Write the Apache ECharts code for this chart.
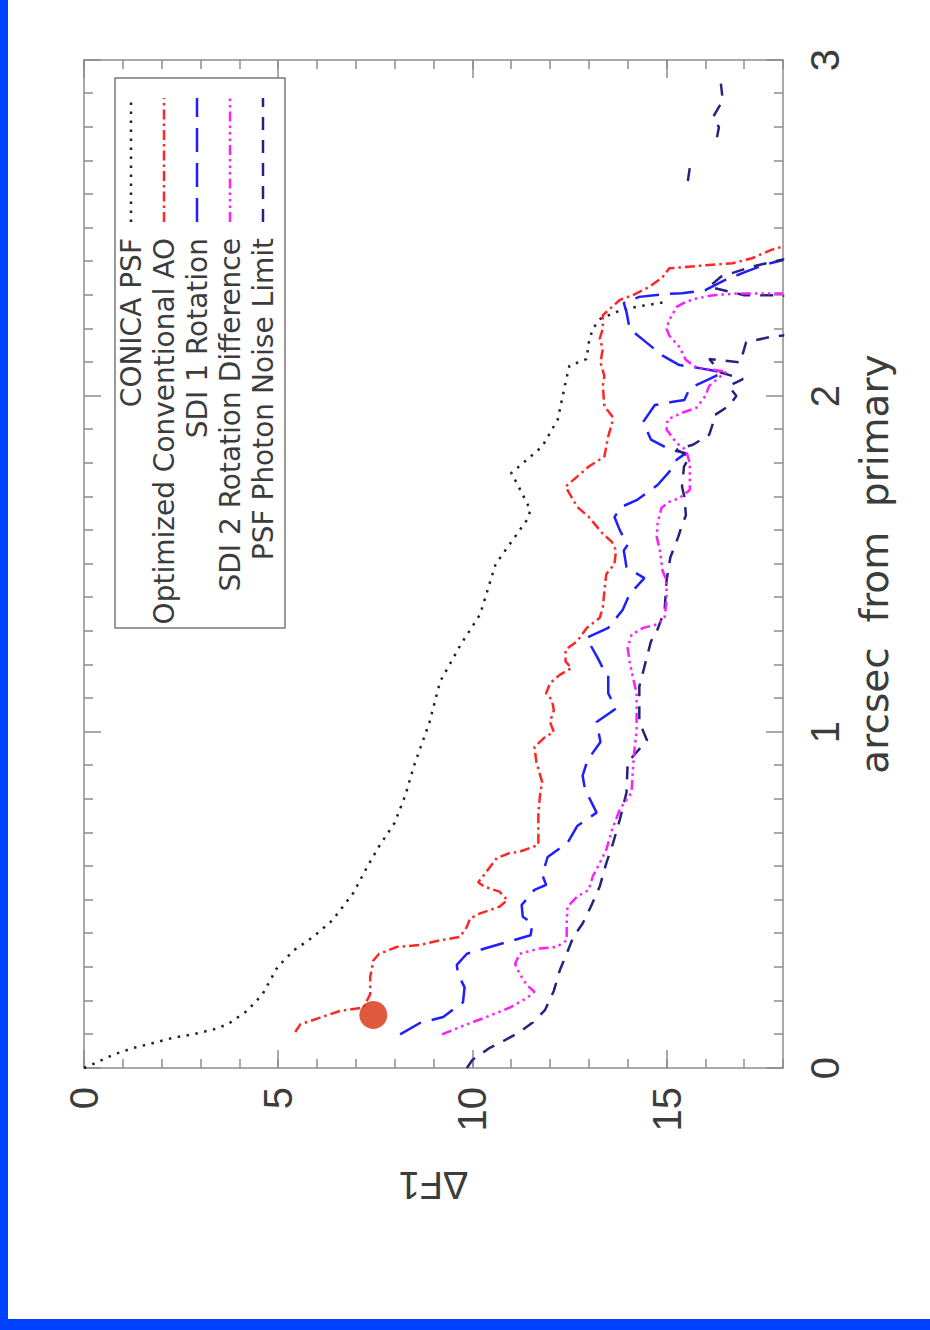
<!DOCTYPE html>
<html>
<head>
<meta charset="utf-8">
<script src="https://cdn.jsdelivr.net/npm/echarts@6/dist/echarts.min.js"></script>
<style>
  html, body { margin: 0; padding: 0; background: #fff; }
  #page { position: relative; width: 930px; height: 1330px; overflow: hidden; background: #fff; }
  /* the plot is laid out landscape and turned a quarter turn counter-clockwise */
  #chart { position: absolute; left: 0; top: 0; width: 1330px; height: 930px;
           transform-origin: 0 0; transform: translate(0px, 1330px) rotate(-90deg); }
  .band { position: absolute; background: #0040ff; }
</style>
</head>
<body>
<div id="page">
  <div id="chart"></div>
  <div class="band" style="left:0;top:0;width:8px;height:1330px"></div>
  <div class="band" style="left:0;top:1319px;width:930px;height:11px"></div>
</div>
<script>
// tick labels
const arcsecTicks = [0, 1, 2, 3];
const deltaF1Ticks = [0, 5, 10, 15];

// curve names, in legend order
const seriesNames = ['CONICA PSF', 'Optimized Conventional AO', 'SDI 1 Rotation',
  'SDI 2 Rotation Difference', 'PSF Photon Noise Limit'];

// each point: [arcsec from primary, ΔF1]
const conicaPsf = [[0.00,0.0],[0.015,0.3],[0.04,0.76],[0.06,1.28],[0.075,1.8],[0.09,2.3],[0.10,2.8],
  [0.115,3.34],[0.13,3.7],[0.17,4.2],[0.22,4.6],[0.30,4.98],[0.35,5.4],[0.39,5.9],[0.44,6.4],[0.52,6.93],
  [0.60,7.3],[0.66,7.6],[0.73,8.0],[0.81,8.27],[0.90,8.5],[1.03,8.9],[1.15,9.17],[1.26,9.7],[1.35,10.2],
  [1.50,10.6],[1.56,10.97],[1.63,11.4],[1.66,11.5],[1.74,11.15],[1.77,11.0],[1.81,11.4],[1.85,11.8],
  [1.93,12.2],[2.04,12.4],[2.09,12.5],[2.11,12.94],[2.16,13.0],[2.20,13.1],[2.23,13.3],[2.25,13.7],
  [2.265,14.2],[2.28,15.0]];

const optimizedAO = [[0.107,5.44],[0.13,5.57],[0.15,6.08],[0.17,6.6],[0.18,7.2],[0.22,7.37],[0.27,7.37],
  [0.32,7.45],[0.34,7.6],[0.36,8.05],[0.366,8.65],[0.38,9.17],[0.39,9.68],[0.42,9.86],[0.445,9.94],
  [0.46,10.2],[0.48,10.7],[0.50,10.9],[0.525,10.7],[0.54,10.3],[0.553,10.15],[0.57,10.27],[0.625,10.63],
  [0.64,10.97],[0.643,11.2],[0.664,11.7],[0.70,11.7],[0.76,11.7],[0.82,11.75],[0.85,11.8],[0.91,11.65],
  [0.955,11.6],[0.985,11.87],[1.0,12.1],[1.03,12.0],[1.065,12.1],[1.095,12.05],[1.115,11.9],[1.145,12.0],
  [1.17,12.25],[1.19,12.55],[1.21,12.4],[1.245,12.4],[1.27,12.7],[1.31,12.95],[1.34,13.28],[1.37,13.36],
  [1.42,13.4],[1.47,13.45],[1.50,13.66],[1.54,13.7],[1.565,13.6],[1.59,13.36],[1.64,13.0],[1.67,12.7],
  [1.73,12.4],[1.76,12.7],[1.79,13.0],[1.82,13.4],[1.88,13.5],[1.92,13.6],[1.94,13.6],[1.97,13.4],
  [2.03,13.36],[2.06,13.4],[2.10,13.3],[2.14,13.36],[2.17,13.28],[2.20,13.36],[2.24,13.36],[2.25,13.45],
  [2.286,13.8],[2.30,14.13],[2.325,14.56],[2.354,14.9],[2.38,15.07],[2.384,15.5],[2.39,16.1],[2.395,16.7],
  [2.41,17.2],[2.435,17.7],[2.445,18.0]];

const sdi1Rotation = [[0.10,8.14],[0.134,8.65],[0.152,9.25],[0.196,9.76],[0.24,9.8],[0.28,9.63],[0.307,9.6],
  [0.34,9.86],[0.36,10.45],[0.375,10.9],[0.395,11.5],[0.43,11.55],[0.45,11.3],[0.485,11.27],[0.53,11.6],
  [0.545,11.9],[0.575,11.8],[0.628,11.94],[0.67,12.45],[0.72,12.7],[0.76,13.2],[0.83,12.9],[0.87,12.84],
  [0.917,12.97],[0.97,13.3],[1.03,13.2],[1.07,13.7],[1.115,13.5],[1.175,13.5],[1.19,13.36],[1.22,13.23],
  [1.28,12.94],[1.31,13.5],[1.363,13.87],[1.41,14.05],[1.458,14.43],[1.49,13.97],[1.54,13.9],[1.557,14.0],
  [1.60,13.8],[1.64,13.66],[1.67,13.84],[1.69,14.23],[1.735,14.77],[1.774,15.07],[1.81,15.26],[1.83,15.5],
  [1.84,15.1],[1.87,14.6],[1.923,14.4],[1.973,14.7],[1.982,15.13],[1.988,15.46],[2.024,15.6],[2.05,16.1],
  [2.07,16.45],[2.083,15.85],[2.092,15.33],[2.12,14.9],[2.167,14.4],[2.20,14.05],[2.25,13.97],[2.277,13.9],
  [2.295,14.3],[2.304,15.0],[2.306,15.4],[2.315,16.0],[2.345,16.5],[2.37,17.05],[2.39,17.5],[2.405,18.0]];

const sdi2Difference = [[0.10,9.22],[0.122,9.68],[0.152,10.37],[0.18,10.97],[0.208,11.4],[0.227,11.6],
  [0.247,11.4],[0.28,11.22],[0.31,11.1],[0.34,11.22],[0.356,11.74],[0.36,12.17],[0.38,12.43],[0.43,12.43],
  [0.48,12.45],[0.51,12.7],[0.53,13.0],[0.57,13.1],[0.61,13.28],[0.65,13.45],[0.71,13.6],[0.77,13.8],
  [0.82,14.1],[0.88,14.13],[0.955,14.18],[1.0,14.23],[1.045,14.23],[1.115,14.23],[1.165,14.13],[1.21,14.05],
  [1.25,14.0],[1.29,14.1],[1.31,14.4],[1.32,14.75],[1.34,14.95],[1.39,15.0],[1.45,15.0],[1.48,14.9],
  [1.54,14.83],[1.58,14.75],[1.62,14.77],[1.667,14.87],[1.685,15.07],[1.696,15.33],[1.72,15.6],[1.76,15.6],
  [1.80,15.6],[1.84,15.5],[1.86,15.26],[1.90,15.0],[1.93,15.03],[1.95,15.4],[1.965,15.77],[2.0,16.0],
  [2.03,16.1],[2.065,16.45],[2.072,16.55],[2.085,15.77],[2.107,15.5],[2.146,15.33],[2.18,15.07],[2.20,15.0],
  [2.226,15.07],[2.265,15.26],[2.28,15.5],[2.29,15.77],[2.30,16.2],[2.305,16.8],[2.305,17.5],[2.305,18.0]];

// '-' marks a break where the limit curve is not drawn
const photonNoise = [[0.0,9.86],[0.024,10.0],[0.06,10.45],[0.074,10.7],[0.107,11.22],[0.137,11.57],
  [0.172,11.87],[0.23,12.1],[0.29,12.25],[0.34,12.43],[0.39,12.6],[0.43,12.84],[0.48,13.05],[0.54,13.28],
  [0.61,13.45],[0.66,13.6],[0.74,13.8],[0.82,13.97],[0.91,14.0],[0.975,14.5],[1.03,14.3],[1.135,14.3],
  [1.225,14.5],[1.27,14.6],[1.30,14.75],[1.36,14.95],[1.45,15.0],[1.52,15.1],[1.58,15.3],[1.616,15.4],
  [1.645,15.5],[1.70,15.46],[1.73,15.4],[1.79,15.45],[1.82,15.6],[1.84,15.26],[1.855,15.68],[1.885,16.1],
  [1.92,16.2],[1.94,16.2],[1.97,16.6],[2.0,16.8],[2.03,16.6],[2.05,16.97],[2.07,16.4],[2.11,16.1],
  [2.10,16.9],[2.16,17.05],[2.175,17.65],[2.18,18.0],[2.20,18.6],[2.29,18.6],[2.30,17.9],[2.30,17.0],
  [2.325,16.1],[2.355,16.4],[2.385,17.2],[2.42,18.5],['-','-'],[2.64,15.55],[2.68,15.6],['-','-'],
  [2.77,16.3],[2.80,16.35],[2.83,16.2],[2.88,16.45],[2.93,16.4]];

// marked companion position
const companion = [[0.158, 7.45]];

const seriesData = [conicaPsf, optimizedAO, sdi1Rotation, sdi2Difference, photonNoise];

// drawing styles per curve
const curveStyles = [
  { color: '#222222', dash: [2.5, 6.5], z: 2 },
  { color: '#ff2626', dash: [10, 4, 2.5, 4], z: 3 },
  { color: '#1e1eff', dash: [24, 11], z: 4 },
  { color: '#ff1eff', dash: [10, 4, 2.5, 4, 2.5, 4, 2.5, 4], z: 6 },
  { color: '#24247e', dash: [13, 10], z: 5 }
];

const AXIS_COLOR = '#8c8c8c';
const TEXT_COLOR = '#3c3c3c';
const NUM_FONT = 'Liberation Sans';
const WORD_FONT = 'DejaVu Sans';

const grid = { left: 262, top: 84, width: 1008, height: 699 };

function arcsecAxis(position, withLabels) {
  return {
    type: 'value', position, min: 0, max: 3, interval: 1,
    axisLine: { show: true, onZero: false, lineStyle: { color: AXIS_COLOR, width: 1.5 } },
    axisTick: { show: true, inside: true, length: 17, lineStyle: { color: AXIS_COLOR, width: 1.5 } },
    minorTick: { show: true, splitNumber: 10, length: 9, lineStyle: { color: AXIS_COLOR, width: 1.5 } },
    axisLabel: { show: withLabels, customValues: arcsecTicks, margin: 22,
      fontFamily: NUM_FONT, fontSize: 40, color: TEXT_COLOR },
    splitLine: { show: false }, minorSplitLine: { show: false },
    name: withLabels ? 'arcsec  from  primary' : '',
    nameLocation: 'middle', nameGap: 72,
    nameTextStyle: { fontFamily: WORD_FONT, fontSize: 39, color: TEXT_COLOR }
  };
}

// minor ΔF1 ticks every unit
function deltaMinorAxis(position) {
  return {
    type: 'value', position, inverse: true, min: 0, max: 18, interval: 1,
    axisLine: { show: true, onZero: false, lineStyle: { color: AXIS_COLOR, width: 1.5 } },
    axisTick: { show: true, inside: true, length: 9, lineStyle: { color: AXIS_COLOR, width: 1.5 } },
    axisLabel: { show: false },
    splitLine: { show: false }
  };
}

// major ΔF1 ticks with labels
function deltaMajorAxis(position, withLabels) {
  return {
    type: 'value', position, inverse: true, min: 0, max: 18,
    axisLine: { show: false, onZero: false },
    axisTick: { show: true, inside: true, length: 18, customValues: deltaF1Ticks,
      lineStyle: { color: AXIS_COLOR, width: 1.5 } },
    axisLabel: { show: withLabels, customValues: deltaF1Ticks, margin: 19,
      fontFamily: NUM_FONT, fontSize: 40, color: TEXT_COLOR },
    splitLine: { show: false },
    name: withLabels ? 'ΔF1' : '',
    nameLocation: 'middle', nameGap: 98,
    nameTextStyle: { fontFamily: NUM_FONT, fontSize: 38, color: TEXT_COLOR }
  };
}

const series = seriesData.map((data, i) => ({
  type: 'line',
  name: seriesNames[i],
  data,
  xAxisIndex: 0, yAxisIndex: 0,
  showSymbol: false, symbol: 'none',
  clip: true, connectNulls: false,
  z: curveStyles[i].z,
  lineStyle: { color: curveStyles[i].color, width: 2.5, type: curveStyles[i].dash, cap: 'butt' }
}));

series.push({
  type: 'scatter', name: 'companion', data: companion,
  xAxisIndex: 0, yAxisIndex: 0,
  symbol: 'circle', symbolSize: 28, z: 8,
  itemStyle: { color: '#d8300f' }
});

// legend box: text right-aligned, sample line to its right
const legendBox = { x: 702, y: 115, w: 550, h: 170 };
const legendRow0 = 131, legendStep = 33, legendTextRight = 1092, sampleStart = 1108, sampleEnd = 1232;

const graphic = [{
  type: 'rect', silent: true, z: 20,
  shape: { x: legendBox.x, y: legendBox.y, width: legendBox.w, height: legendBox.h },
  style: { fill: '#fff', stroke: '#7a7a7a', lineWidth: 1.5 }
}];
seriesNames.forEach((name, i) => {
  const y = legendRow0 + legendStep * i;
  graphic.push({
    type: 'text', silent: true, z: 21, x: legendTextRight, y,
    style: { text: name, fill: TEXT_COLOR, font: '28px "DejaVu Sans"',
      textAlign: 'right', textVerticalAlign: 'middle' }
  });
  graphic.push({
    type: 'line', silent: true, z: 21,
    shape: { x1: sampleStart, y1: y, x2: sampleEnd, y2: y },
    style: { stroke: curveStyles[i].color, lineWidth: 2.5, lineDash: curveStyles[i].dash }
  });
});

const chart = echarts.init(document.getElementById('chart'), null, { renderer: 'svg', width: 1330, height: 930 });
chart.setOption({
  backgroundColor: 'transparent',
  animation: false,
  grid: Object.assign({ containLabel: false }, grid),
  xAxis: [arcsecAxis('bottom', true), arcsecAxis('top', false)],
  yAxis: [deltaMinorAxis('left'), deltaMajorAxis('left', true), deltaMinorAxis('right'), deltaMajorAxis('right', false)],
  series,
  graphic
});
</script>
</body>
</html>
